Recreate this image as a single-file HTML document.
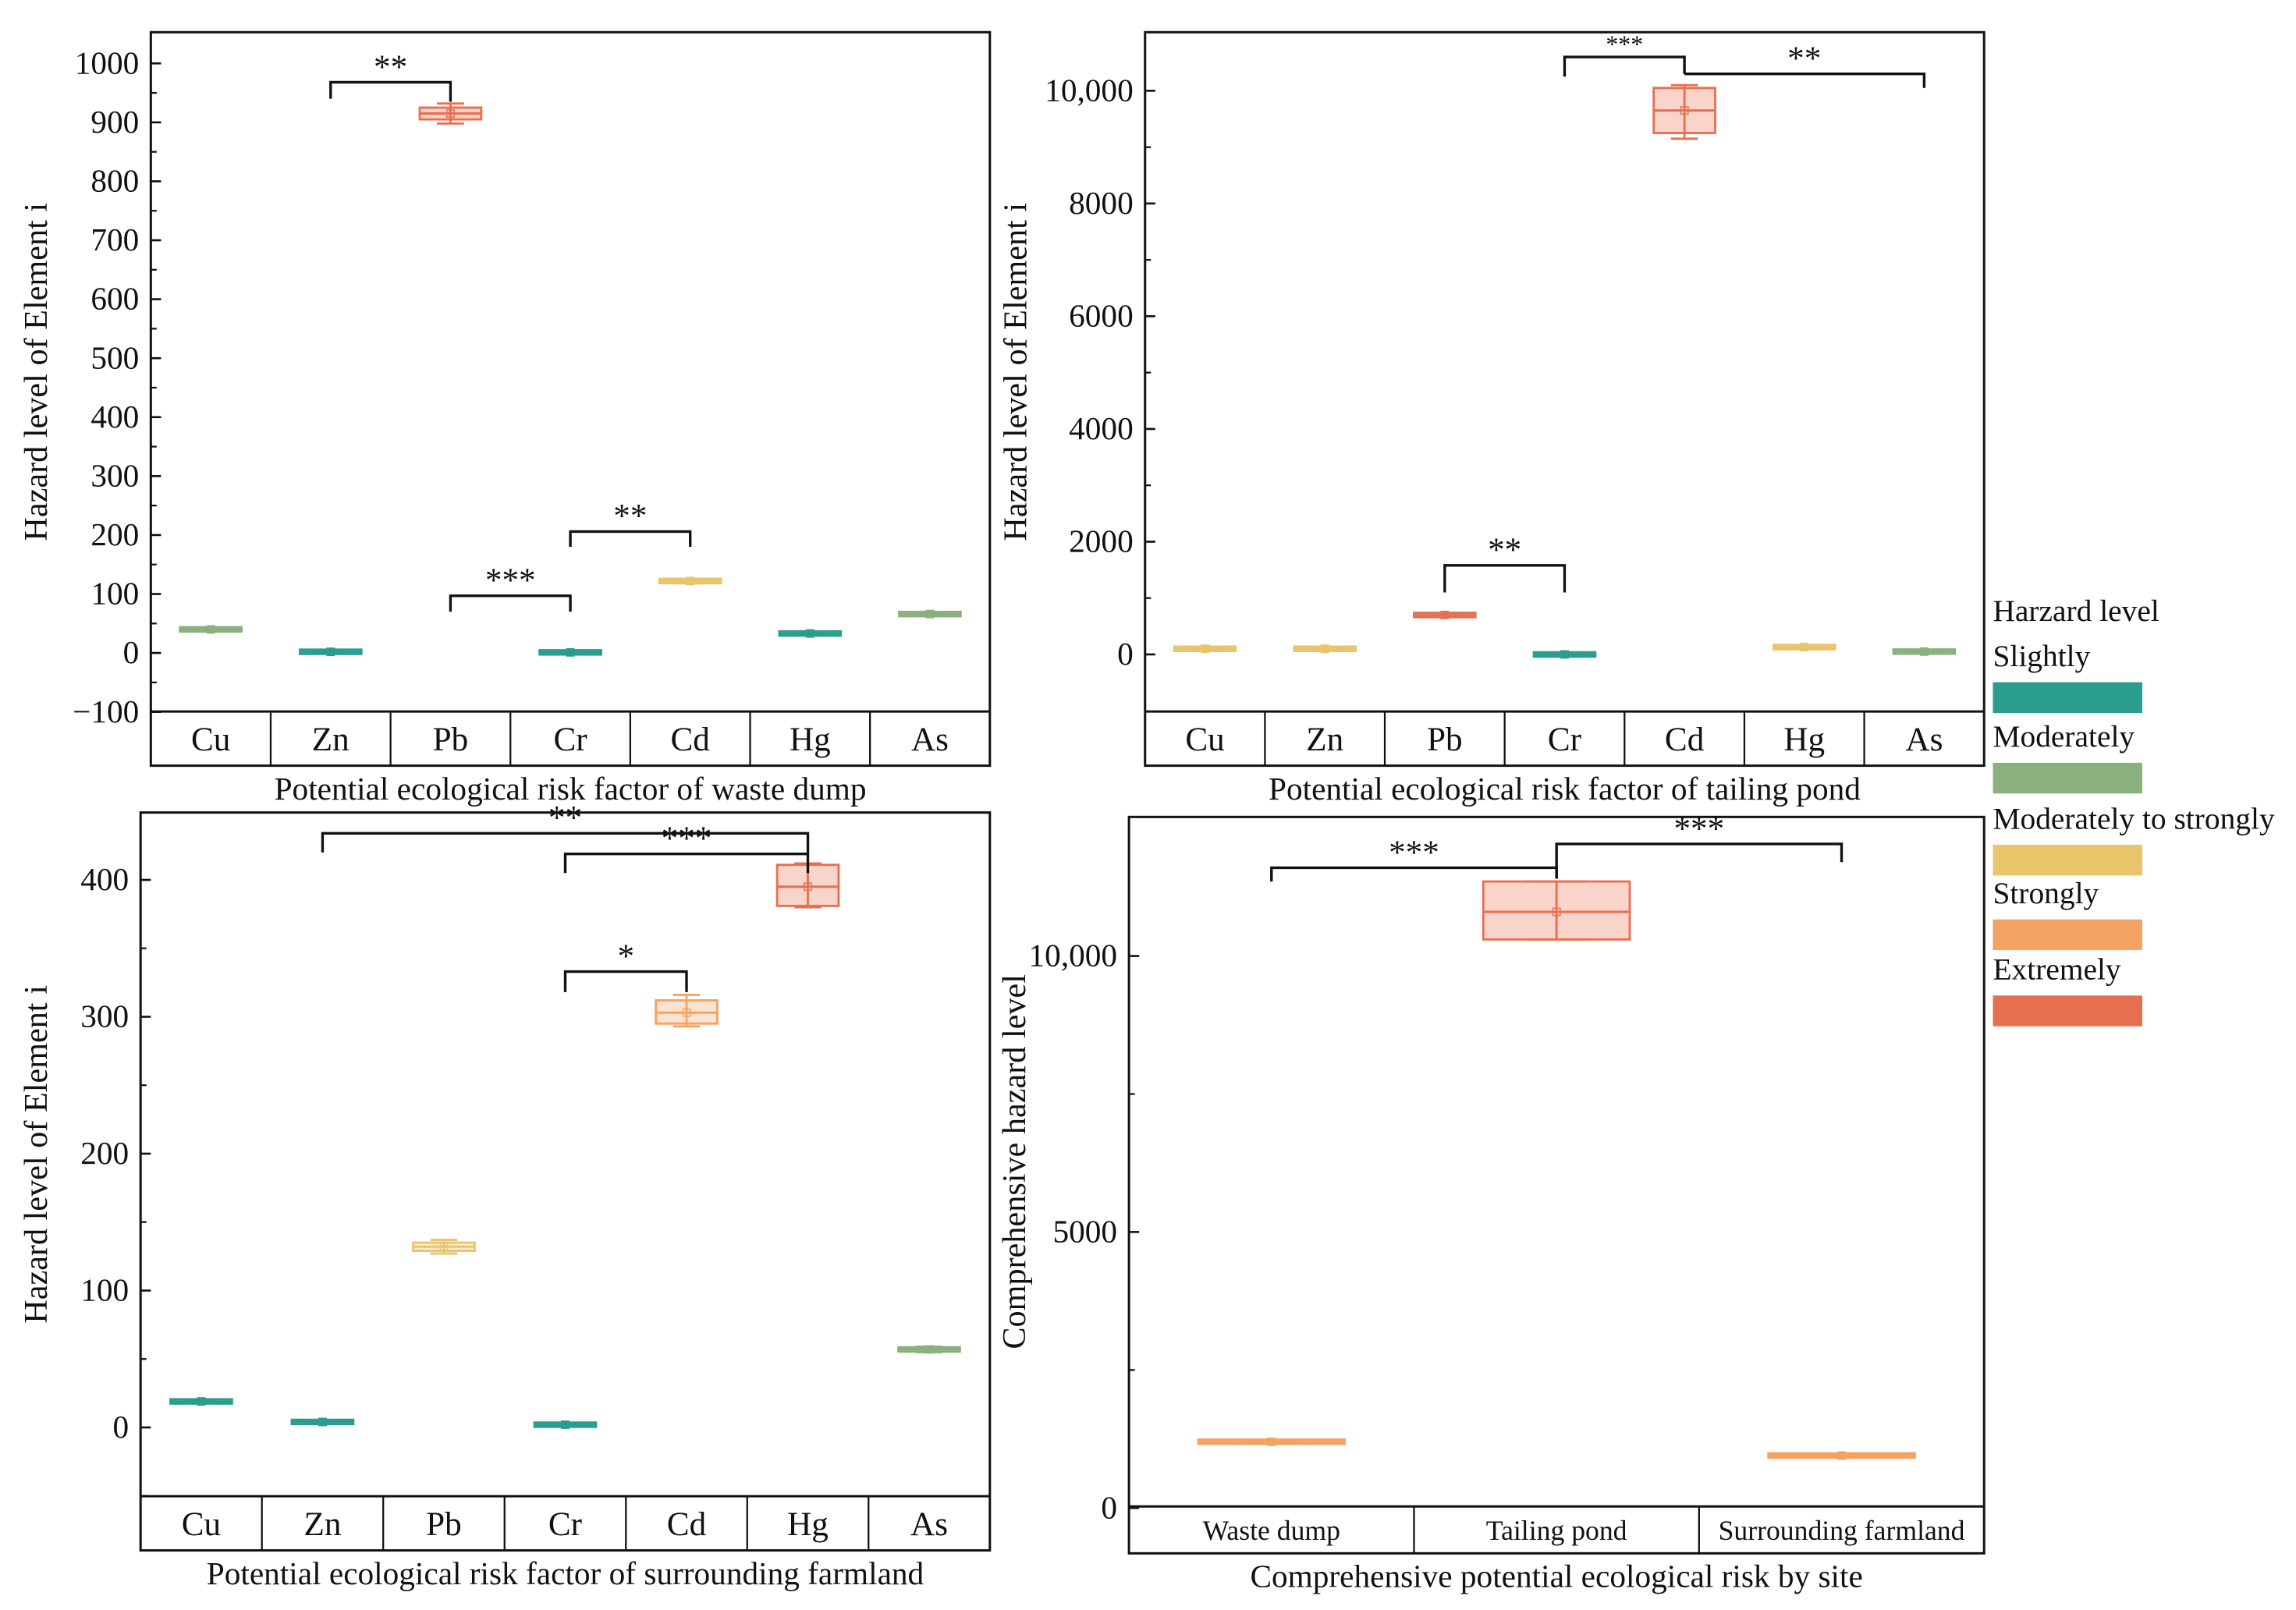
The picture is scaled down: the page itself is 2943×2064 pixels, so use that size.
<!DOCTYPE html>
<html><head><meta charset="utf-8"><style>
html,body{margin:0;padding:0;background:#fff;}
svg{display:block;font-family:"Liberation Serif",serif;}
svg text{font-family:"Liberation Serif",serif;}
</style></head><body>
<svg id="fig" width="2943" height="2064" viewBox="0 0 1568 1099.7" preserveAspectRatio="none" xmlns="http://www.w3.org/2000/svg"></svg>
<script>
// ---- data ----
const elements = ["Cu","Zn","Pb","Cr","Cd","Hg","As"];
const sites = ["Waste dump","Tailing pond","Surrounding farmland"];
// box stats: [whiskerLow, q1, median, q3, whiskerHigh]
const dumpStats = [[38,39,40,41,42],[1,1.5,2,2.5,3],[898,905,915,925,932],[0,0.5,1,1.5,2],[118,120,122,124,126],[31,32,33,34,35],[64,65,66,67,68]];
const dumpColors = ["#8ab17d","#2a9d8f","#e76f51","#2a9d8f","#e9c46a","#2a9d8f","#8ab17d"];
const pondStats = [[90,95,100,105,110],[90,95,100,105,110],[680,690,700,710,720],[-10,-5,0,5,10],[9150,9250,9650,10050,10100],[120,125,130,135,140],[40,45,50,55,60]];
const pondColors = ["#e9c46a","#e9c46a","#e76f51","#2a9d8f","#e76f51","#e9c46a","#8ab17d"];
const farmStats = [[18,18.5,19,19.5,20],[3,3.5,4,4.5,5],[127,129,132,135,137],[1,1.5,2,2.5,3],[293,295,303,312,316],[380,381,395,411,412],[55,56,57,58,59]];
const farmColors = ["#2a9d8f","#2a9d8f","#e9c46a","#2a9d8f","#f4a261","#e76f51","#8ab17d"];
const siteStats = [[1180,1190,1200,1210,1220],[10300,10300,10800,11350,11350],[930,940,950,960,970]];
const siteColors = ["#f4a261","#e76f51","#f4a261"];
const dumpTicks = [-100,0,100,200,300,400,500,600,700,800,900,1000];
const pondTicks = [0,2000,4000,6000,8000,10000];
const pondTickLabels = ["0","2000","4000","6000","8000","10,000"];
const farmTicks = [0,100,200,300,400];
const siteTicks = [0,5000,10000];
const siteTickLabels = ["0","5000","10,000"];
// brackets: [i, j, topValue, legLowI, legLowJ, label]
const dumpBr = [[1,2,968,940,935,"**"],[2,3,97,70,70,"***"],[3,4,206,180,180,"**"]];
const pondBr = [[3,4,10600,10250,10300,"***"],[4,6,10300,10300,10050,"**"],[2,3,1580,1100,1100,"**"]];
const farmBr = [[1,5,434,420,420,"**"],[3,5,419,405,405,"***"],[3,4,333,318,318,"*"]];
const siteBr = [[0,1,11600,11350,11400,"***"],[1,2,12030,11400,11700,"***"]];
const legendLabels = ["Slightly","Moderately","Moderately to strongly","Strongly","Extremely"];
const legendColors = ["#2a9d8f","#8ab17d","#e9c46a","#f4a261","#e76f51"];

const svg = document.getElementById('fig');
const NS = "http://www.w3.org/2000/svg";
function el(tag, attrs, parent, text){
  const e = document.createElementNS(NS, tag);
  for (const k in attrs) e.setAttribute(k, attrs[k]);
  if (text !== undefined) e.textContent = text;
  (parent||svg).appendChild(e);
  return e;
}

function panel(cfg){
  const g = el('g', {});
  
  
  const {x0,x1,y0,y1,stripTop,zeroY,slope,cats,stats,colors,ticks,tickLabels,minors,br,xtitle,ytitle,catFont,boxW} = cfg;
  const y = v => zeroY - v*slope;
  const cw = (x1-x0)/cats.length;
  const cx = i => x0 + cw*(i+0.5);
  const f = el('rect',{x:x0,y:y0,width:x1-x0,height:y1-y0,fill:'none',stroke:'#111','stroke-width':1.6},g);
   
  el('line',{x1:x0,x2:x1,y1:stripTop,y2:stripTop,stroke:'#111','stroke-width':1.6},g);
  for (let i=1;i<cats.length;i++) el('line',{x1:x0+cw*i,x2:x0+cw*i,y1:stripTop,y2:y1,stroke:'#111','stroke-width':1.2},g);
  cats.forEach((c,i)=>{
    const t = el('text',{x:cx(i),y:(stripTop+y1)/2+(catFont*0.35),'text-anchor':'middle','font-size':catFont,fill:'#111'},g,c);
     
  });
  ticks.forEach((v,i)=>{
    el('line',{x1:x0,x2:x0+7,y1:y(v),y2:y(v),stroke:'#111','stroke-width':1.4},g);
    const t = el('text',{x:x0-8,y:y(v)+7,'text-anchor':'end','font-size':22,fill:'#111'},g,tickLabels?tickLabels[i]:(v<0?'\u2212'+(-v):String(v)));
     
  });
  minors.forEach(v=>{ el('line',{x1:x0,x2:x0+4,y1:y(v),y2:y(v),stroke:'#111','stroke-width':1.2},g); });
  const yt = el('text',{x:0,y:0,'text-anchor':'middle','font-size':22.5,fill:'#111',transform:`translate(${cfg.ytx},${(y0+stripTop)/2}) rotate(-90)`},g,ytitle);
   
  const xt = el('text',{x:(x0+x1)/2,y:y1+23,'text-anchor':'middle','font-size':22,fill:'#111'},g,xtitle);
   
  stats.forEach((s,i)=>{
    const c = colors[i]; const w = boxW; const X = cx(i);
    const bg = el('g',{},g);
    
    
    const [lo,q1,md,q3,hi] = s;
    el('line',{x1:X,x2:X,y1:y(hi),y2:y(lo),stroke:c,'stroke-width':1.5},bg);
    el('line',{x1:X-w*0.22,x2:X+w*0.22,y1:y(hi),y2:y(hi),stroke:c,'stroke-width':1.5},bg);
    el('line',{x1:X-w*0.22,x2:X+w*0.22,y1:y(lo),y2:y(lo),stroke:c,'stroke-width':1.5},bg);
    const h = Math.max(3, y(q1)-y(q3));
    el('rect',{x:X-w/2,y:(y(q1)+y(q3))/2-h/2,width:w,height:h,fill:c,'fill-opacity':0.3,stroke:c,'stroke-width':1.5},bg);
    el('line',{x1:X-w/2,x2:X+w/2,y1:y(md),y2:y(md),stroke:c,'stroke-width':1.6},bg);
    el('rect',{x:X-2.5,y:y(md)-2.5,width:5,height:5,fill:'none',stroke:c,'stroke-width':0.8},bg);
  });
  br.forEach(b=>{
    const [i,j,top,li,lj,lab] = b;
    const bg = el('g',{},g);
    
    
    el('polyline',{points:`${cx(i)},${y(li)} ${cx(i)},${y(top)} ${cx(j)},${y(top)} ${cx(j)},${y(lj)}`,fill:'none',stroke:'#111','stroke-width':1.8},bg);
    el('text',{x:(cx(i)+cx(j))/2,y:y(top)-3,'text-anchor':'middle','font-size':lab.length>2&&cfg.smallStar?17:23,fill:'#111'},bg,lab);
  });
}

panel({name:'waste-dump-panel',x0:103,x1:676,y0:22,y1:523,stripTop:486,zeroY:446,slope:0.4027,cats:elements,stats:dumpStats,colors:dumpColors,
  ticks:dumpTicks,minors:[-50,50,150,250,350,450,550,650,750,850,950],br:dumpBr,xtitle:'Potential ecological risk factor of waste dump',ytitle:'Hazard level of Element i',ytx:32,catFont:23,boxW:42});
panel({name:'tailing-pond-panel',x0:782,x1:1355,y0:22,y1:523,stripTop:486,zeroY:447,slope:0.0385,cats:elements,stats:pondStats,colors:pondColors,
  ticks:pondTicks,tickLabels:pondTickLabels,minors:[1000,3000,5000,7000,9000],br:pondBr,xtitle:'Potential ecological risk factor of tailing pond',ytitle:'Hazard level of Element i',ytx:701,catFont:23,boxW:42,smallStar:true});
panel({name:'farmland-panel',x0:96,x1:676,y0:555,y1:1059,stripTop:1022,zeroY:975,slope:0.935,cats:elements,stats:farmStats,colors:farmColors,
  ticks:farmTicks,minors:[-50,50,150,250,350],br:farmBr,xtitle:'Potential ecological risk factor of surrounding farmland',ytitle:'Hazard level of Element i',ytx:32,catFont:23,boxW:42});
panel({name:'site-panel',x0:771,x1:1355,y0:558,y1:1061,stripTop:1029,zeroY:1030,slope:0.0377,cats:sites,stats:siteStats,colors:siteColors,
  ticks:siteTicks,tickLabels:siteTickLabels,minors:[2500,7500],br:siteBr,xtitle:'Comprehensive potential ecological risk by site',ytitle:'Comprehensive hazard level',ytx:700,catFont:19,boxW:100});

const lg = el('g',{});


el('text',{x:1361,y:424,'font-size':21,fill:'#111'},lg,'Harzard level');
const ly = [455,510,566,617,669];
legendLabels.forEach((l,i)=>{
  const e = el('g',{},lg);
  
  
  el('text',{x:1361,y:ly[i],'font-size':21,fill:'#111'},e,l);
  el('rect',{x:1361,y:ly[i]+11,width:102,height:21,fill:legendColors[i]},e);
});
</script>
</body></html>
